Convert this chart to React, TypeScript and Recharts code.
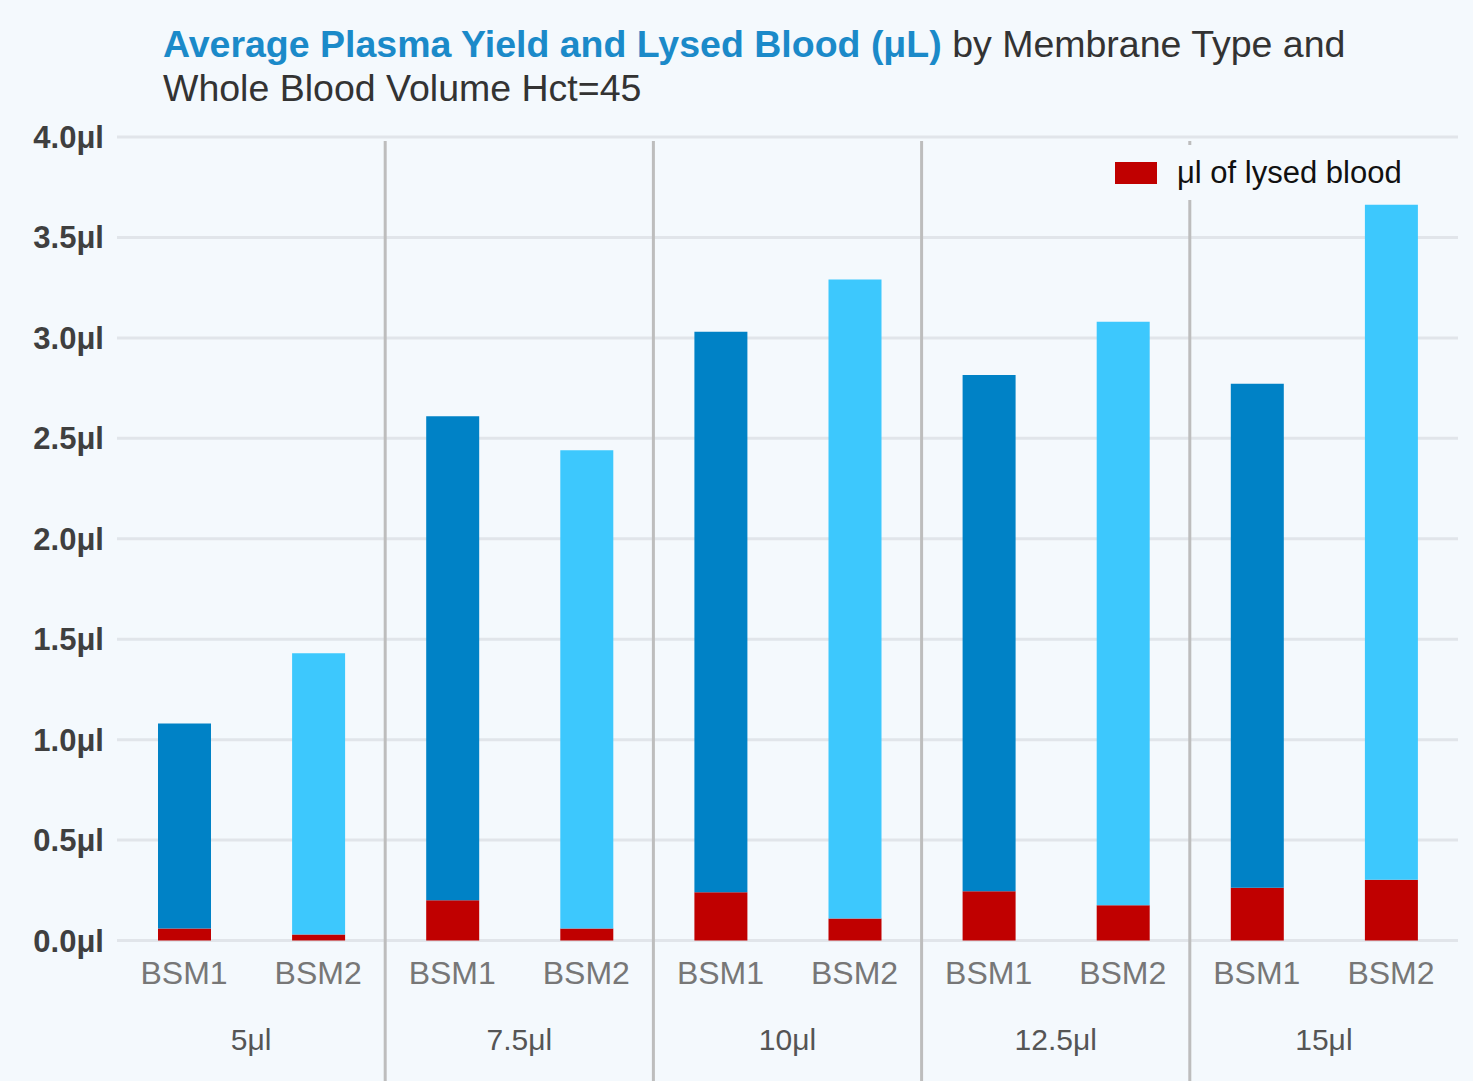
import React from 'react';
import { BarChart, Bar, XAxis, YAxis, CartesianGrid, Legend, ReferenceLine, Cell } from 'recharts';

const CHART_W = 1473;
const CHART_H = 1081;
const BG = '#f4f9fd';
const FONT = '"Liberation Sans", Arial, sans-serif';

// categories
const membranes = ['BSM1', 'BSM2', 'BSM1', 'BSM2', 'BSM1', 'BSM2', 'BSM1', 'BSM2', 'BSM1', 'BSM2'];
const volumes = ['5μl', '5μl', '7.5μl', '7.5μl', '10μl', '10μl', '12.5μl', '12.5μl', '15μl', '15μl'];
const groupLabels = ['5μl', '7.5μl', '10μl', '12.5μl', '15μl'];

// series values (μl)
const lysedBlood = [0.06, 0.03, 0.2, 0.06, 0.24, 0.11, 0.245, 0.175, 0.262, 0.303];
const plasmaYield = [1.02, 1.4, 2.41, 2.38, 2.79, 3.18, 2.57, 2.905, 2.51, 3.36];

// ticks
const yTicks = [0, 0.5, 1, 1.5, 2, 2.5, 3, 3.5, 4];
const groupTicks = [1, 3, 5, 7, 9];
const groupSeparators = [2, 4, 6, 8];

const LYSED_COLOR = '#c00000';
const membraneColors: Record<string, string> = { BSM1: '#0082c6', BSM2: '#3dc8fd' };

const rows = membranes.map((m, i) => ({
  key: `${volumes[i]}-${m}`,
  slot: i + 0.5,
  membrane: m,
  volume: volumes[i],
  lysed: lysedBlood[i],
  plasma: plasmaYield[i],
}));

const renderLegend = () => (
  <div style={{ display: 'flex', alignItems: 'center', height: 55, paddingLeft: 15, background: BG, fontFamily: FONT }}>
    <span style={{ display: 'inline-block', width: 42, height: 22, background: LYSED_COLOR, marginRight: 20 }} />
    <span style={{ fontSize: 31, color: '#111' }}>μl of lysed blood</span>
  </div>
);

// separator lines run from the top of the plot down past the axis labels
const separatorShape = (p: any) => (
  <line
    x1={p.x1}
    y1={Math.min(p.y1, p.y2) + 4}
    x2={p.x2}
    y2={CHART_H}
    stroke="#bdbdbd"
    strokeWidth={3}
  />
);

export default function App() {
  return (
    <div style={{ position: 'absolute', top: 0, left: 0, width: CHART_W, height: CHART_H, background: BG, fontFamily: FONT }}>
      <div style={{ position: 'absolute', top: 22, left: 163, fontSize: 37.5, lineHeight: '44px', color: '#333', zIndex: 2, whiteSpace: 'nowrap' }}>
        <span style={{ color: '#1b8ac9', fontWeight: 'bold' }}>Average Plasma Yield and Lysed Blood (μL)</span> by Membrane Type and
        <br />
        Whole Blood Volume Hct=45
      </div>
      <BarChart
        width={CHART_W}
        height={CHART_H}
        data={rows}
        margin={{ top: 137, right: 15, bottom: 0, left: 0 }}
        style={{ fontFamily: FONT }}
      >
        <CartesianGrid vertical={false} stroke="#e1e5ea" strokeWidth={3} xAxisId="a" />
        <YAxis
          domain={[0, 4]}
          ticks={yTicks}
          width={117}
          axisLine={false}
          tickLine={false}
          tickSize={0}
          tickMargin={13}
          tickFormatter={(v: number) => `${v.toFixed(1)}μl`}
          tick={{ fill: '#3f3f3f', fontSize: 31, fontWeight: 'bold' }}
        />
        <XAxis
          xAxisId="a"
          dataKey="key"
          height={70}
          axisLine={false}
          tickLine={false}
          tickSize={0}
          tickMargin={21}
          interval={0}
          tickFormatter={(_v: string, i: number) => membranes[i]}
          tick={{ fill: '#777', fontSize: 32 }}
        />
        <XAxis
          xAxisId="b"
          dataKey="slot"
          type="number"
          domain={[0, 10]}
          allowDataOverflow
          ticks={groupTicks}
          height={70.5}
          axisLine={false}
          tickLine={false}
          tickSize={0}
          tickMargin={18}
          interval={0}
          tickFormatter={(v: number) => groupLabels[(v - 1) / 2]}
          tick={{ fill: '#555', fontSize: 30 }}
        />
        {groupSeparators.map((s) => (
          <ReferenceLine key={s} x={s} xAxisId="b" ifOverflow="visible" shape={separatorShape} />
        ))}
        <Bar dataKey="lysed" stackId="s" xAxisId="a" fill={LYSED_COLOR} barSize={53} isAnimationActive={false} />
        <Bar dataKey="plasma" stackId="s" xAxisId="a" barSize={53} legendType="none" isAnimationActive={false}>
          {rows.map((r) => (
            <Cell key={r.key} fill={membraneColors[r.membrane]} />
          ))}
        </Bar>
        <Legend
          layout="vertical"
          align="center"
          verticalAlign="middle"
          content={renderLegend}
          wrapperStyle={{ top: 145, left: 1100, width: 320, height: 55 }}
        />
      </BarChart>
    </div>
  );
}
